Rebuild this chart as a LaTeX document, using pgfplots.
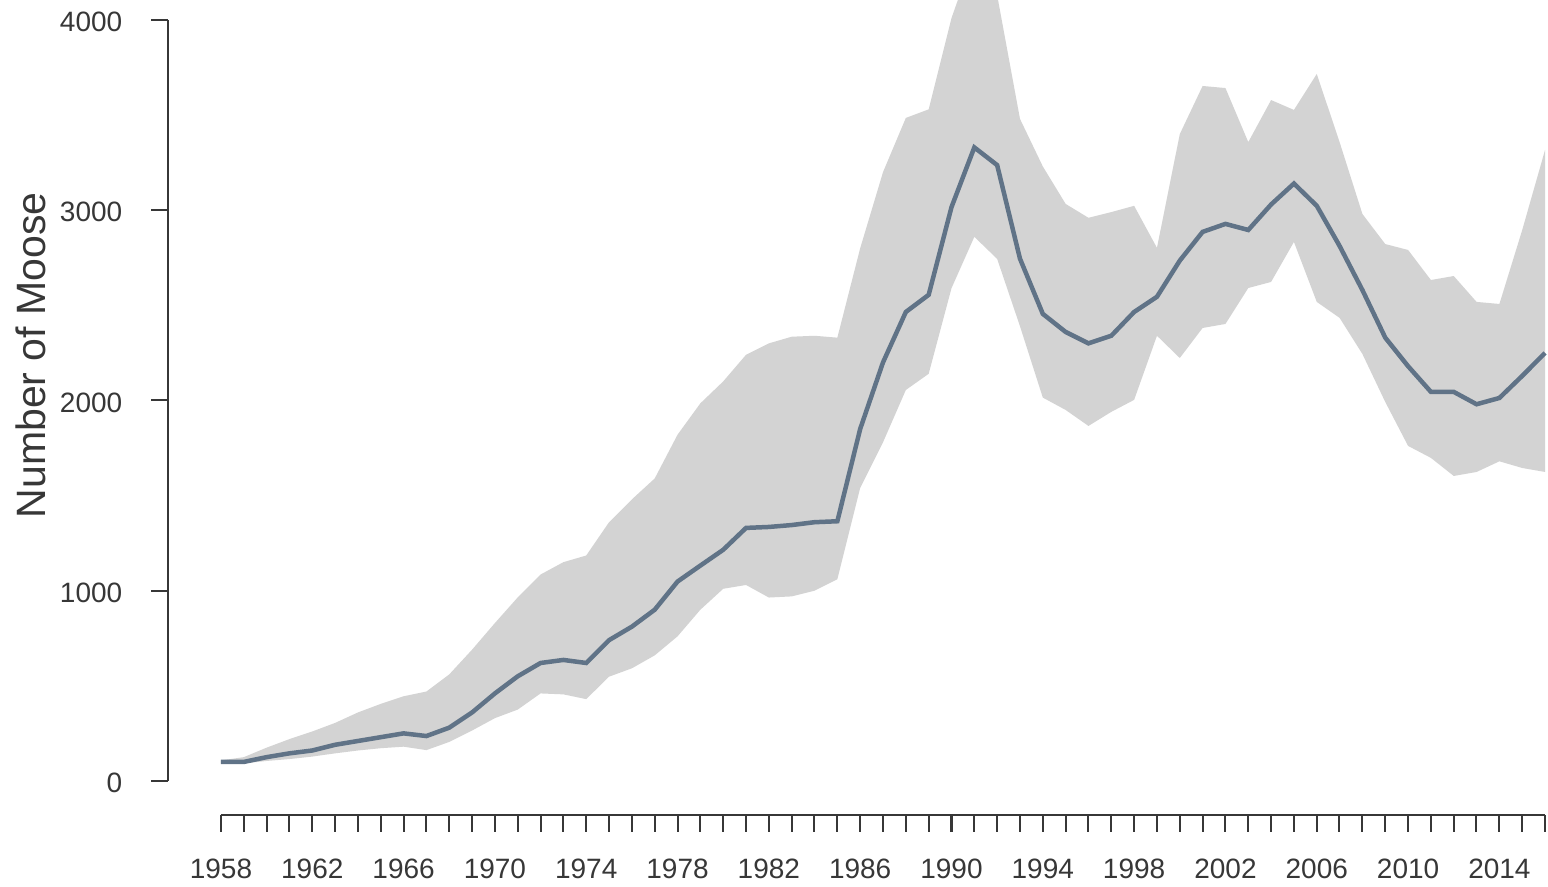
\documentclass[border=0pt]{standalone}
\usepackage{pgfplots}
\pgfplotsset{compat=1.18}
\usepackage{pgfplotstable}
\usepgfplotslibrary{fillbetween}
\usepackage{fontspec}
\setmainfont{Liberation Sans}
\definecolor{band}{RGB}{211,211,211}
\definecolor{est}{RGB}{96,115,135}
\definecolor{axc}{RGB}{55,55,55}
\pgfplotstableread{
year est lo hi
1958 100 92 108
1959 100 92 125
1960 125 105 175
1961 145 115 220
1962 160 128 260
1963 190 145 305
1964 210 160 360
1965 230 172 405
1966 250 180 445
1967 236 162 470
1968 280 205 560
1969 360 265 690
1970 460 330 830
1971 550 375 965
1972 620 460 1085
1973 636 455 1150
1974 620 430 1185
1975 740 548 1360
1976 811 592 1480
1977 900 660 1590
1978 1048 760 1820
1979 1132 900 1985
1980 1215 1010 2100
1981 1330 1030 2240
1982 1335 964 2300
1983 1345 970 2335
1984 1360 1000 2340
1985 1365 1060 2330
1986 1850 1540 2800
1987 2200 1780 3200
1988 2465 2055 3485
1989 2555 2140 3530
1990 3016 2590 4010
1991 3330 2860 4350
1992 3237 2744 4130
1993 2745 2390 3480
1994 2455 2015 3230
1995 2360 1950 3033
1996 2300 1866 2960
1997 2340 1940 2990
1998 2465 2003 3023
1999 2545 2340 2802
2000 2735 2223 3400
2001 2886 2381 3653
2002 2928 2402 3642
2003 2896 2591 3358
2004 3030 2623 3579
2005 3140 2833 3527
2006 3023 2518 3716
2007 2812 2434 3358
2008 2580 2244 2980
2009 2330 1992 2822
2010 2180 1761 2791
2011 2045 1698 2633
2012 2045 1603 2654
2013 1980 1624 2518
2014 2013 1680 2507
2015 2129 1645 2896
2016 2250 1624 3317
}\moose
\begin{document}
\begin{tikzpicture}
\begin{axis}[
  name=ax,
  scale only axis,
  width=414pt, height=244.5pt,
  xmin=1955.68, xmax=2016.13,
  ymin=-179, ymax=4105,
  axis lines*=left,
  axis line style={draw=none},
  clip mode=individual,
  xtick={1958,1962,...,2014},
  minor xtick={1958,...,2016},
  ytick={0,1000,2000,3000,4000},
  xtick pos=bottom, ytick pos=left,
  tick align=outside,
  major tick length=5pt, minor tick length=5pt,
  every tick/.style={axc, line width=0.6pt},
  every minor tick/.style={axc, line width=0.6pt},
  scaled ticks=false,
  ticklabel style={font=\fontsize{8.4}{10}\selectfont, text=axc,
    /pgf/number format/1000 sep={}, /pgf/number format/assume math mode=true},
  xticklabel style={yshift=-4.8pt},
  yticklabel style={xshift=-5.2pt, yshift=-0.6pt},
  every axis y label/.style={at={(axis description cs:-0.0993,0.564)}, rotate=90, anchor=center,
    font=\fontsize{12.3}{14}\selectfont, text=axc},
  ylabel={Number of Moose},
]
\addplot[draw=none, name path=hi] table[x=year, y=hi] {\moose};
\addplot[draw=none, name path=lo] table[x=year, y=lo] {\moose};
\addplot[band, draw=none] fill between[of=hi and lo];
\addplot[est, line width=1.35pt] table[x=year, y=est] {\moose};
\draw[axc, line width=0.6pt] (axis cs:1958,-179) -- (axis cs:2016,-179);
\draw[axc, line width=0.6pt] (axis cs:1955.68,0) -- (axis cs:1955.68,4000);
\end{axis}
\pgfresetboundingbox
\path[use as bounding box] ([xshift=-50.4pt,yshift=-21.6pt]ax.south west) rectangle (ax.north east);
\end{tikzpicture}
\end{document}
